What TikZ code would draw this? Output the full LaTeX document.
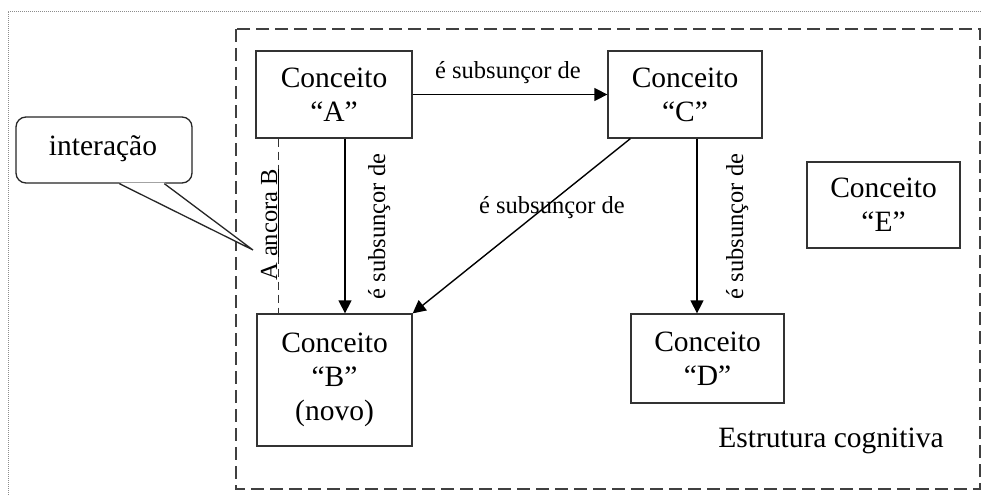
\documentclass[tikz,border=0pt]{standalone}
\usepackage{fontspec}
\setmainfont{Liberation Serif}
\usetikzlibrary{arrows.meta}
\begin{document}
\begin{tikzpicture}[x=1pt,y=-1pt,
  concept/.style={draw=black!80, line width=1.3pt, inner sep=0pt, align=center,
    font=\fontsize{29.5}{34}\selectfont},
  rel/.style={draw=black, line width=1.4pt, -{Triangle[length=13pt,width=13pt]}},
  lbl/.style={inner sep=0pt, font=\fontsize{24.5}{28}\selectfont},
  pageframe/.style={draw=black!45, line width=0.8pt, dash pattern=on 1pt off 1pt},
  structframe/.style={draw=black!75, line width=1.4pt, dash pattern=on 13pt off 6pt},
  anchorline/.style={draw=black!80, line width=1.3pt, dash pattern=on 8pt off 5pt},
  bubble/.style={draw=black!85, line width=1.3pt, fill=white, rounded corners=10pt,
    inner sep=0pt}
]
\useasboundingbox (0,0) rectangle (981,495);

% page and cognitive-structure frames
\draw[pageframe] (981,11) -- (8,11) -- (8,495);
\draw[structframe] (236,29) rectangle (980,489);

% concepts
\node[concept, minimum width=156pt, minimum height=87pt] (A) at (334,94.5) {Conceito\\“A”};
\node[concept, minimum width=154pt, minimum height=87pt] (C) at (685,94.5) {Conceito\\“C”};
\node[concept, minimum width=153pt, minimum height=86pt] (E) at (883.5,205) {Conceito\\“E”};
\node[concept, minimum width=155pt, minimum height=132pt] (B) at (334.5,380) {Conceito\\“B”\\(novo)};
\node[concept, minimum width=153pt, minimum height=89pt] (D) at (707.5,358.5) {Conceito\\“D”};

% relations
\draw[rel] (A.east) -- (C.west);
\draw[rel] ([xshift=11pt]A.south) -- ([xshift=10.5pt]B.north);
\draw[rel] ([xshift=12pt]C.south) -- ([xshift=-10.5pt]D.north);
\draw[rel] ([xshift=23pt]C.south west) -- (B.north east);
\draw[anchorline] ([xshift=23pt]A.south west) -- ([xshift=22pt]B.north west);

% relation labels
\node[lbl, anchor=base] (lAC) at (508,78) {é subsunçor de};
\node[lbl, anchor=base] (lCB) at (552,213) {é subsunçor de};
\node[lbl, anchor=base, rotate=90] (lAB) at (385,226.5) {é subsunçor de};
\node[lbl, anchor=base, rotate=90] (lCD) at (743,226.5) {é subsunçor de};
\node[lbl, anchor=base, rotate=90] (lanc) at (277,225) {A \underline{ancora B}};

\node[inner sep=0pt, anchor=base, font=\fontsize{29.5}{34}\selectfont] (est) at (831,447) {Estrutura cognitiva};

% speech bubble
\node[bubble, minimum width=176pt, minimum height=66pt] (callout) at (104,150) {};
\node[inner sep=0pt, anchor=base, font=\fontsize{29.5}{34}\selectfont] (ctext) at (103,155) {interação};
\coordinate (tip) at (253,250);
\fill[white] ([xshift=104pt,yshift=1pt]callout.south west) -- ([xshift=149pt,yshift=1pt]callout.south west) -- (tip) -- cycle;
\draw[black!85, line width=1.3pt, line join=miter] ([xshift=104pt]callout.south west) -- (tip) -- ([xshift=149pt]callout.south west);
\end{tikzpicture}
\end{document}
